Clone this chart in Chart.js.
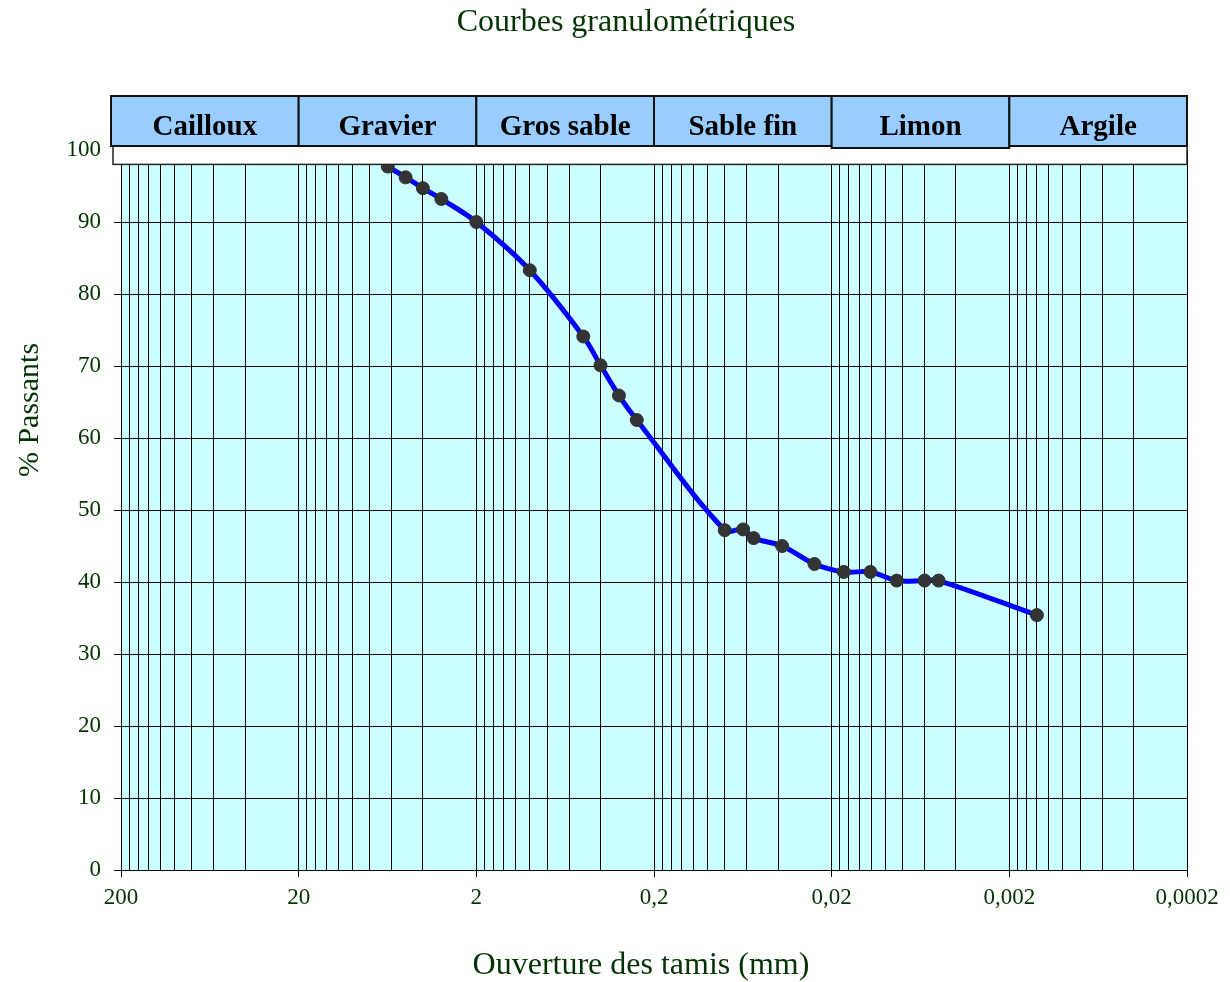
<!DOCTYPE html>
<html lang="fr">
<head>
<meta charset="utf-8">
<title>Courbes granulométriques</title>
<script src="https://cdn.jsdelivr.net/npm/chart.js@4.4.1/dist/chart.umd.min.js"></script>
<style>
  html, body { margin: 0; padding: 0; background: #fff; }
  canvas { display: block; }
</style>
</head>
<body>
<canvas id="courbe" width="1230" height="982"></canvas>
<script>
// Ouverture des tamis (mm) et pourcentage de passants
const ouvertures = [6.3, 5, 4, 3.15, 2, 1, 0.5, 0.4, 0.315, 0.25, 0.08, 0.063, 0.055, 0.038, 0.025, 0.0171, 0.0121, 0.0086, 0.006, 0.005, 0.0014];
const passants = [97.7, 96.2, 94.7, 93.2, 90.0, 83.3, 74.1, 70.1, 65.9, 62.5, 47.2, 47.3, 46.1, 45.0, 42.5, 41.4, 41.4, 40.2, 40.2, 40.2, 35.4];

// Graduations de l'axe des ouvertures
const xMajors = [200, 20, 2, 0.2, 0.02, 0.002, 0.0002];
const xLabels = ['200', '20', '2', '0,2', '0,02', '0,002', '0,0002'];

// Classes granulométriques et leurs limites (mm)
const classes = ['Cailloux', 'Gravier', 'Gros sable', 'Sable fin', 'Limon', 'Argile'];
const limites = [200, 20, 2, 0.2, 0.02, 0.002, 0.0002];

const VERT = '#003300';
const SERIF = "'Liberation Serif', 'Times New Roman', serif";

// lignes verticales : 1, 2, ... 9 fois chaque borne de décade, plus 200
const gridValues = [];
for (let d = 1; d < xMajors.length; d++) {
    for (let n = 1; n <= 9; n++) {
        gridValues.push(+(xMajors[d] * n).toPrecision(6));
    }
}
gridValues.push(xMajors[0]);

function majorIndex(v) {
    return xMajors.findIndex(m => Math.abs(Math.log10(v) - Math.log10(m)) < 1e-6);
}

// fond bleu clair de la zone de tracé, titres, bandeau des classes
const decor = {
    id: 'decor',
    beforeDatasetsDraw(chart) {
        const { ctx, chartArea } = chart;
        ctx.save();
        ctx.globalCompositeOperation = 'destination-over';
        ctx.fillStyle = '#CCFFFF';
        ctx.fillRect(chartArea.left, chartArea.top, chartArea.right - chartArea.left, chartArea.bottom - chartArea.top);
        ctx.restore();
    },
    afterDraw(chart) {
        const { ctx, chartArea } = chart;
        const xs = chart.scales.x;
        const ys = chart.scales.y;
        ctx.save();

        // bande blanche au-dessus de la grille
        const stripTop = chartArea.top - 4;
        const stripBottom = ys.getPixelForValue(98);
        ctx.fillStyle = '#FFFFFF';
        ctx.strokeStyle = '#222';
        ctx.lineWidth = 1.5;
        ctx.fillRect(chartArea.left - 8, stripTop, chartArea.right - chartArea.left + 8, stripBottom - stripTop);
        ctx.strokeRect(chartArea.left - 8, stripTop, chartArea.right - chartArea.left + 8, stripBottom - stripTop);

        // cases des classes
        const boxTop = chartArea.top - 54;
        ctx.font = 'bold 29px ' + SERIF;
        ctx.textAlign = 'center';
        ctx.textBaseline = 'alphabetic';
        classes.forEach((nom, i) => {
            let x0 = xs.getPixelForValue(limites[i]);
            const x1 = xs.getPixelForValue(limites[i + 1]);
            if (i === 0) x0 -= 10;
            const h = nom === 'Limon' ? 52 : 50;
            ctx.fillStyle = '#99CCFF';
            ctx.fillRect(x0, boxTop, x1 - x0, h);
            ctx.strokeStyle = '#111';
            ctx.lineWidth = 2;
            ctx.strokeRect(x0, boxTop, x1 - x0, h);
            ctx.fillStyle = '#000';
            ctx.fillText(nom, (x0 + x1) / 2, boxTop + 39);
        });

        // titres
        ctx.fillStyle = VERT;
        ctx.font = '32px ' + SERIF;
        ctx.textBaseline = 'middle';
        ctx.fillText('Courbes granulométriques', 626, 23);
        ctx.fillText('Ouverture des tamis (mm)', 641, 966);

        ctx.translate(30, 410);
        ctx.rotate(-Math.PI / 2);
        ctx.font = '30px ' + SERIF;
        ctx.fillText('% Passants', 0, 0);
        ctx.restore();
    }
};

const ctx = document.getElementById('courbe').getContext('2d');

new Chart(ctx, {
    type: 'line',
    data: {
        datasets: [{
            label: '% Passants',
            data: ouvertures.map((x, i) => ({ x: x, y: passants[i] })),
            borderColor: '#0000FF',
            borderWidth: 5,
            tension: 0.35,
            pointRadius: 6.5,
            pointBackgroundColor: '#333333',
            pointBorderColor: '#333333',
            pointBorderWidth: 1
        }]
    },
    options: {
        responsive: false,
        animation: false,
        layout: { padding: { top: 150, right: 43, left: 0, bottom: 0 } },
        plugins: {
            legend: { display: false },
            tooltip: { enabled: false },
            title: { display: false }
        },
        scales: {
            x: {
                type: 'logarithmic',
                reverse: true,
                min: 0.0002,
                max: 200,
                afterBuildTicks: scale => {
                    scale.ticks = gridValues.map(v => ({ value: v }));
                },
                afterFit: scale => { scale.height = 112; },
                border: { color: '#000', width: 1 },
                grid: {
                    color: '#000',
                    lineWidth: 1,
                    tickLength: 7,
                    tickColor: c => (c.tick && majorIndex(c.tick.value) >= 0) ? '#000' : 'rgba(0,0,0,0)'
                },
                ticks: {
                    autoSkip: false,
                    maxRotation: 0,
                    padding: 7,
                    color: VERT,
                    font: { family: SERIF, size: 23 },
                    callback: v => {
                        const k = majorIndex(v);
                        return k >= 0 ? xLabels[k] : '';
                    }
                }
            },
            y: {
                min: 0,
                max: 100,
                afterFit: scale => { scale.width = 121; },
                border: { color: '#000', width: 1 },
                grid: { color: '#000', lineWidth: 1, tickLength: 7 },
                ticks: {
                    stepSize: 10,
                    padding: 13,
                    color: VERT,
                    font: { family: SERIF, size: 23 }
                }
            }
        }
    },
    plugins: [decor]
});
</script>
</body>
</html>
